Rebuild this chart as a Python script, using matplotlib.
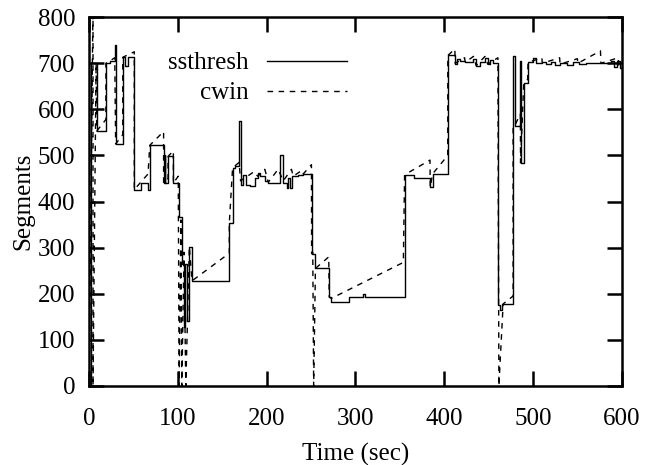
import matplotlib
matplotlib.use("Agg")
import matplotlib.pyplot as plt

# ssthresh: value holds from this time until the next change
ss_times = [0, 2, 8.7, 19, 24, 29.3, 30, 38, 41, 44, 51, 59, 66.5, 68.4, 84, 85.5, 86, 89, 95,
	100.8, 104.6, 107, 108.5, 110, 113, 116, 158, 161.7, 164.4, 169.2, 170.7, 173.7, 176.7,
	181.2, 186.9, 190.6, 192.5, 198.1, 201.9, 215, 218.8, 222.5, 224.4, 226.3, 228.1, 235.6,
	241.3, 250.7, 254.5, 270.5, 273, 292.5, 309, 310.5, 355.4, 365.5, 384.3, 386.9, 404.1,
	412.4, 414, 418, 423.6, 433, 436, 440, 446, 449, 452, 455, 461, 463, 465, 477.6, 479.5,
	485.8, 487, 489.6, 494.4, 500, 503, 510, 515, 520, 525, 530, 538, 545, 552, 560, 570,
	588, 591, 595, 598, 600]
ss_values = [0, 700, 553, 700, 706, 740, 525, 713, 695, 713, 426, 440, 425, 522, 440, 500, 440, 498, 440,
	367, 265, 127, 265, 140, 302, 228, 353, 473, 477, 575, 437, 458, 437,
	433, 451, 462, 455, 444, 440, 502, 440, 430, 451, 430, 455, 458,
	460, 287, 255, 193, 182, 194, 200, 194, 458, 451, 431, 460, 717,
	699, 710, 706, 702, 710, 695, 702, 712, 698, 708, 701, 175, 164, 178, 716, 565,
	705, 484, 658, 702, 712, 700, 703, 698, 702, 696, 700, 697, 703, 698, 700, 700,
	705, 692, 705, 690, 690]

# cwin: congestion window, piecewise linear
cwin_times = [0, 4.5, 4.5, 8, 8.7, 19, 19, 29, 30, 38, 38, 51, 51, 66.5, 68.4, 84, 84, 89, 89, 95, 95,
	100.5, 101.5, 103.5, 104.5, 107, 109, 113, 116, 158, 158, 161.7, 169, 170.7, 186, 190, 198,
	201.9, 213, 218.8, 228, 230, 240, 241.3, 250.5, 250.7, 252, 253, 255, 270, 270.5, 273, 354,
	355.4, 384, 384.3, 386.9, 404, 404.1, 412, 412.4, 423, 423.6, 433, 436, 446, 449, 460.5,
	461.6, 466.4, 477.6, 477.6, 479.5, 485.8, 486, 489.6, 494, 494.4, 510, 510.5, 530, 530.5,
	550, 550.5, 576, 576.5, 596, 596.5, 600]
cwin_values = [0, 830, 0, 700, 553, 578, 700, 712, 525, 545, 713, 725, 426, 460, 522, 552, 440, 450, 498, 510, 440,
	455, 0, 360, 0, 290, 0, 302, 228, 288, 353, 473, 485, 445, 465, 455, 470,
	442, 470, 445, 470, 455, 468, 460, 480, 287, 290, 0, 255, 280, 193, 190, 268,
	458, 490, 431, 460, 500, 717, 731, 700, 712, 702, 715, 695, 715, 698, 712,
	0, 178, 195, 565, 565, 590, 484, 658, 665, 702, 712, 700, 712, 698,
	710, 700, 727, 700, 712, 695, 705]

plt.rcParams['font.family'] = ['Liberation Serif', 'DejaVu Serif']

fig = plt.figure(figsize=(6.45, 4.65), dpi=100)
ax = fig.add_axes([0.138, 0.170, 0.826, 0.793])

ax.plot(ss_times, ss_values, color="black", linewidth=1.0, drawstyle="steps-post", label="ssthresh")
ax.plot(cwin_times, cwin_values, color="black", linewidth=1.0, linestyle=(0, (4, 4)), label="cwin")

ax.set_xlim(0, 600)
ax.set_ylim(0, 800)
ax.set_xticks(range(0, 601, 100))
ax.set_yticks(range(0, 801, 100))
ax.tick_params(direction="in", length=11, width=1.8, top=True, right=True, labelsize=18)
ax.tick_params(axis="x", pad=16)
ax.tick_params(axis="y", pad=10)
for spine in ax.spines.values():
	spine.set_linewidth(1.8)

ax.set_xlabel("Time (sec)", fontsize=18, labelpad=9)
ax.set_ylabel("Segments", fontsize=18, labelpad=2)

leg = ax.legend(loc="upper right", bbox_to_anchor=(0.507, 0.94), frameon=False, fontsize=18,
	markerfirst=False, handlelength=3.2, handletextpad=0.7, labelspacing=0.3, borderpad=0)
for text in leg.get_texts():
	text.set_ha("right")

fig.savefig("out.png", dpi=100)
